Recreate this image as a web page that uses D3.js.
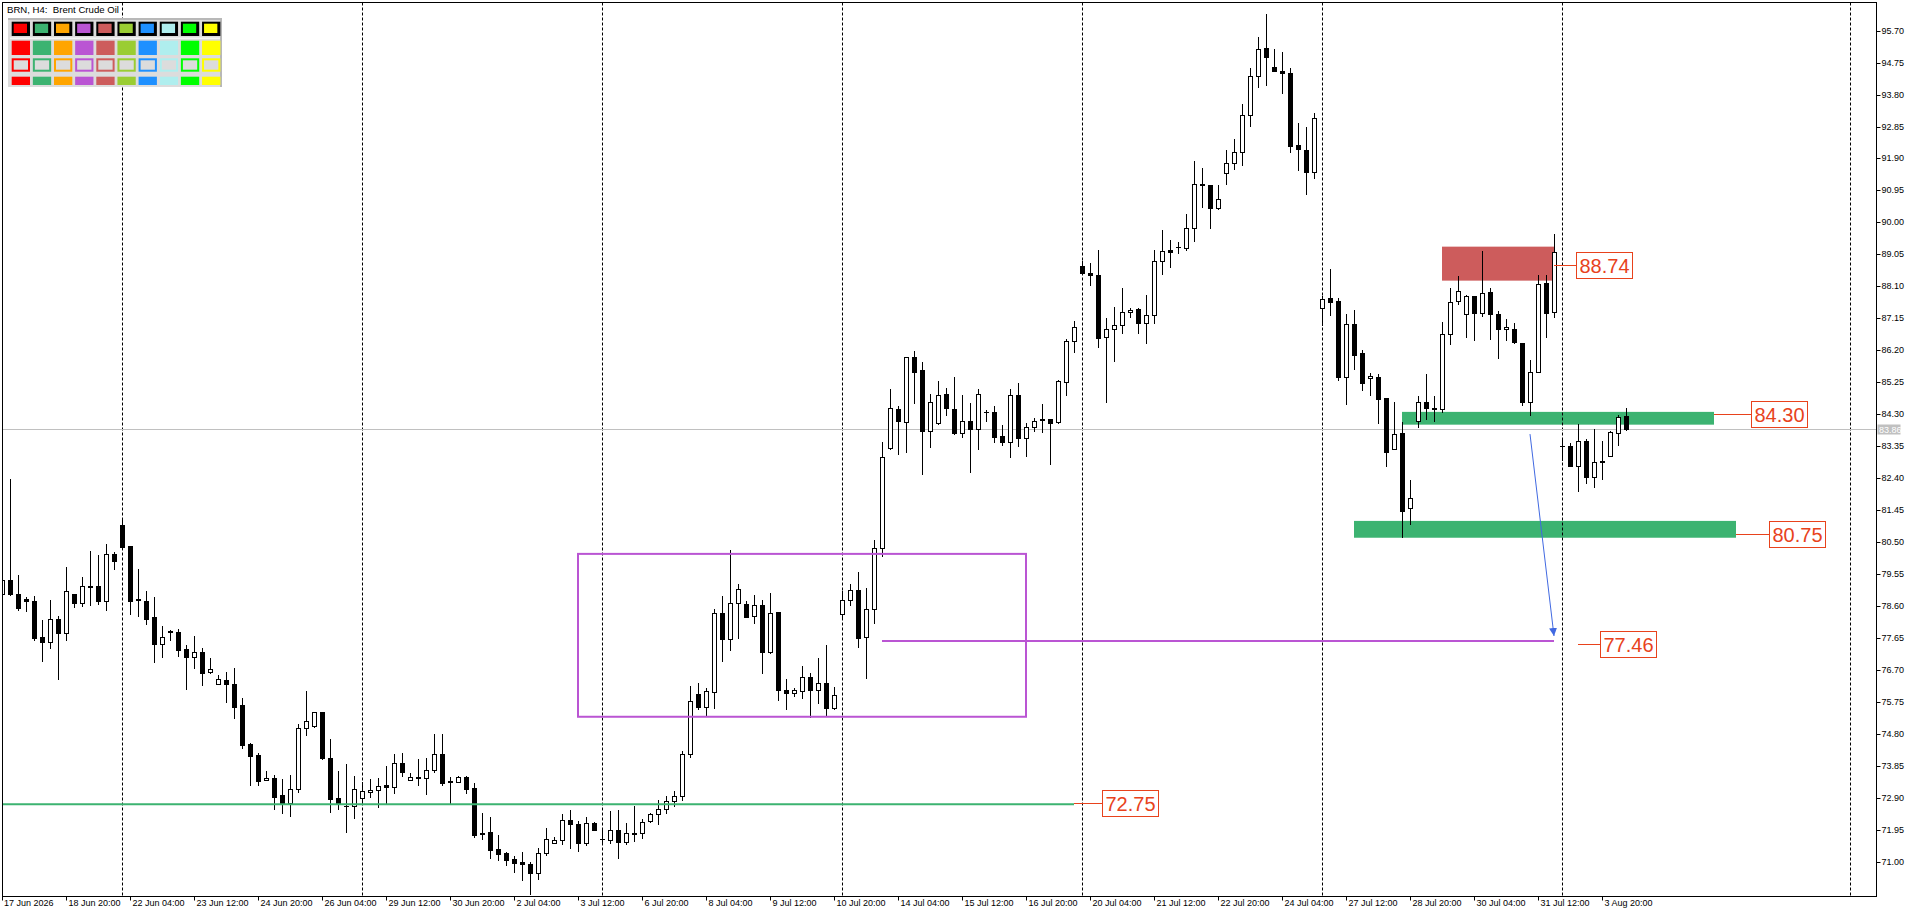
<!DOCTYPE html>
<html><head><meta charset="utf-8">
<script src="https://cdn.jsdelivr.net/npm/d3@7"></script>
<style>html,body{margin:0;padding:0;background:#fff;overflow:hidden}svg text{white-space:pre}</style>
</head><body>
<svg id="c" width="1920" height="915"></svg>
<script>
// ---- data (H4 bars, Brent) ----
const opens=[78.95,79.37,78.95,78.81,78.75,77.67,77.54,78.21,77.81,78.96,
78.70,79.21,79.19,78.76,80.16,81.01,80.38,78.81,78.75,78.27,
77.46,77.86,77.82,77.31,77.10,77.22,76.63,76.27,76.39,76.28,
75.66,74.50,74.17,73.42,73.48,72.98,72.74,73.15,74.99,75.04,
75.44,74.08,72.89,72.67,72.65,72.91,73.06,73.12,73.27,73.21,
73.95,73.44,73.51,73.48,73.72,74.19,73.39,73.36,73.51,73.19,
71.82,71.90,71.37,71.26,71.07,70.99,70.93,70.68,71.26,71.55,
71.64,72.24,72.12,71.55,72.15,71.67,71.64,71.94,71.58,71.85,
71.85,72.20,72.41,72.56,72.80,72.95,74.20,76.00,75.61,76.05,
78.38,77.63,78.68,78.65,78.30,78.62,77.24,78.41,76.10,76.03,
76.09,76.48,76.12,76.30,75.58,78.37,78.77,79.07,77.69,78.50,
80.33,83.31,84.47,84.08,85.99,85.60,83.81,84.05,84.89,84.47,
83.75,84.09,83.87,84.38,84.36,83.65,83.48,84.86,83.58,83.91,
84.15,84.15,84.06,85.25,86.47,88.71,88.49,88.43,86.60,86.84,
86.94,87.33,87.42,87.02,87.25,88.86,89.18,89.28,89.23,89.82,
91.14,91.11,90.42,91.46,91.76,92.08,93.18,94.34,95.17,94.63,
94.50,94.44,92.29,92.15,91.49,87.45,87.74,87.66,85.41,86.97,
86.11,85.37,85.41,84.78,83.26,83.73,81.50,84.09,84.65,84.50,
84.47,86.67,87.66,87.27,87.80,87.30,87.92,87.27,86.82,86.82,
86.43,84.67,85.56,88.21,87.33,83.35,83.35,82.77,83.50,82.44,
82.92,83.07,83.73,84.25];
const highs=[79.45,82.39,79.52,78.88,78.90,78.18,78.78,78.30,79.76,78.97,
79.47,80.24,80.12,80.44,80.21,81.21,80.38,79.70,79.05,78.87,
78.01,77.89,77.92,77.44,77.71,77.34,77.07,76.54,76.64,76.75,
75.86,74.54,74.24,73.70,73.58,73.46,73.58,75.09,76.07,75.44,
75.44,74.64,73.70,73.90,73.55,73.37,73.46,73.49,73.85,74.20,
74.22,73.63,74.06,74.07,74.80,74.80,73.52,73.54,73.54,73.34,
72.44,72.33,71.80,71.29,71.17,71.28,70.98,71.40,72.00,71.74,
72.42,72.54,72.20,72.33,72.18,72.00,72.51,72.55,72.16,72.67,
72.27,72.44,72.83,72.95,73.10,74.30,76.22,76.30,76.15,78.50,
78.90,80.26,79.25,78.76,78.92,78.78,78.98,78.43,76.42,76.17,
76.82,76.62,77.05,77.44,76.18,79.06,79.25,79.60,79.15,80.56,
83.46,85.04,84.54,85.99,86.18,85.84,84.90,85.29,85.07,85.40,
84.87,84.62,85.04,84.44,84.54,83.99,85.05,85.22,84.05,84.19,
84.59,84.15,85.32,86.54,87.07,88.85,88.78,89.18,87.15,87.48,
88.05,87.45,87.45,87.84,89.18,89.77,89.48,89.41,90.25,91.82,
91.61,91.11,91.11,92.15,92.47,93.51,94.58,95.50,96.19,95.14,
95.05,94.58,92.94,92.85,93.24,87.80,88.63,87.74,87.28,87.40,
86.21,85.53,85.49,84.78,84.65,84.08,82.34,84.84,85.49,84.84,
87.05,88.04,88.41,87.84,87.80,89.15,88.04,87.37,87.12,87.02,
86.43,85.90,88.44,88.44,89.65,83.58,83.45,84.01,83.55,83.86,
83.51,83.80,84.28,84.49];
const lows=[78.85,78.93,78.48,78.45,77.59,76.98,77.36,76.43,77.59,78.58,
78.60,78.63,78.66,78.48,79.70,80.34,78.36,78.31,78.06,76.94,
77.09,77.59,77.12,76.14,76.77,76.26,76.62,76.27,75.76,75.28,
74.39,73.27,73.27,73.42,72.58,72.46,72.37,73.08,74.77,75.01,
74.06,72.49,72.56,71.89,72.31,72.72,72.93,72.62,72.72,73.05,
73.56,73.43,73.28,73.02,73.66,73.29,72.72,73.36,73.05,71.75,
71.69,71.12,71.06,70.91,70.71,70.47,70.05,70.50,71.19,71.55,
71.52,71.42,71.33,71.51,71.95,71.55,71.55,71.12,71.52,71.63,
71.72,72.18,72.11,72.45,72.65,72.85,74.10,75.55,75.33,75.58,
76.97,77.29,77.66,78.26,78.10,76.60,77.19,75.81,75.55,75.93,
75.87,75.31,75.71,75.33,75.54,78.28,78.63,77.39,76.46,78.10,
80.09,83.26,83.12,83.19,84.64,82.52,83.34,84.01,84.28,83.70,
83.61,82.59,83.26,84.11,83.48,83.38,83.02,83.36,83.07,83.81,
83.76,82.81,84.03,84.87,86.14,88.46,88.14,86.31,84.67,85.89,
86.72,87.20,86.72,86.41,87.02,88.48,88.68,89.10,89.18,89.46,
90.47,89.84,90.39,91.13,91.58,91.71,92.87,94.01,94.09,94.49,
93.84,92.10,91.56,90.83,91.31,86.95,87.25,85.32,84.61,85.64,
85.02,84.87,84.05,82.77,83.26,80.66,81.03,83.93,84.15,84.11,
84.37,86.39,87.59,86.60,86.52,87.23,86.55,85.96,86.50,86.43,
84.57,84.28,85.56,86.60,87.20,82.94,82.76,82.03,82.27,82.15,
82.39,83.07,83.38,83.83];
const closes=[79.37,78.95,78.55,78.74,77.66,77.54,78.21,77.81,79.04,78.70,
79.21,79.17,78.75,80.16,79.95,80.36,78.76,78.77,78.22,77.46,
77.67,77.83,77.30,77.09,77.22,76.62,76.72,76.42,76.27,75.61,
74.47,74.15,73.41,73.48,72.93,72.74,73.15,74.99,75.17,75.44,
74.09,72.87,72.72,72.65,73.15,73.09,73.12,73.24,73.21,73.95,
73.66,73.51,73.48,73.72,74.19,73.35,73.36,73.51,73.17,71.81,
71.87,71.36,71.24,71.06,70.97,70.92,70.68,71.26,71.68,71.64,
72.24,72.11,71.55,72.14,71.95,71.67,71.94,71.58,71.85,71.82,
72.17,72.41,72.56,72.80,72.95,74.20,75.78,75.61,76.07,78.38,
77.61,78.68,79.10,78.28,78.62,77.24,78.38,76.10,76.02,76.12,
76.48,76.12,76.30,75.58,75.97,78.77,79.07,77.66,78.50,80.33,
83.02,84.50,84.11,85.99,85.56,83.81,84.65,84.86,84.49,83.75,
84.09,83.87,84.89,84.38,83.63,83.48,84.86,83.58,83.91,84.11,
84.12,84.03,85.28,86.47,86.90,88.49,88.45,86.57,86.84,86.94,
87.35,87.39,87.00,87.25,88.84,89.15,89.13,89.28,89.82,91.13,
91.10,90.42,90.71,91.76,92.08,93.18,94.34,95.14,94.91,94.49,
94.44,92.28,92.17,91.51,93.09,87.72,87.64,85.41,86.97,86.07,
85.24,85.43,84.76,83.19,83.70,81.43,81.80,84.67,84.50,84.46,
86.67,87.64,87.96,87.82,87.32,87.89,87.27,86.82,86.88,86.45,
84.67,85.56,88.16,87.32,89.11,83.35,82.77,83.50,82.44,82.87,
82.87,83.76,84.23,83.86];
const lastPrice=83.86;
const tickBars=[0,8,16,24,32,40,48,56,64,72,80,88,96,104,112,120,128,136,144,152,160,168,176,184,192,200];
const tickLabels=["17 Jun 2026","18 Jun 20:00","22 Jun 04:00","23 Jun 12:00","24 Jun 20:00","26 Jun 04:00","29 Jun 12:00","30 Jun 20:00","2 Jul 04:00","3 Jul 12:00","6 Jul 20:00","8 Jul 04:00","9 Jul 12:00","10 Jul 20:00","14 Jul 04:00","15 Jul 12:00","16 Jul 20:00","20 Jul 04:00","21 Jul 12:00","22 Jul 20:00","24 Jul 04:00","27 Jul 12:00","28 Jul 20:00","30 Jul 04:00","31 Jul 12:00","3 Aug 20:00"];
const priceTicks=[71.00,71.95,72.90,73.85,74.80,75.75,76.70,77.65,78.60,79.55,80.50,81.45,82.40,83.35,84.30,85.25,86.20,87.15,88.10,89.05,90.00,90.95,91.90,92.85,93.80,94.75,95.70];
const separatorBars=[15,45,75,105,135,165,195,231];
const paletteColors=["#FF0000","#3CB371","#FFA500","#BA55D3","#CD5C5C","#9ACD32","#1E90FF","#AFEEEE","#00FF00","#FFFF00"];
// chart objects (bar index / price)
const zoneBars=[[180,194],[175,214],[169,216.75]];
const zonePrices=[[88.27,89.28],[83.99,84.37],[80.63,81.13]];
const purpleBoxBars=[72,128], purpleBoxPrices=[75.31,80.15];
const purpleLineBars=[110,194], purpleLinePrice=77.56;
const greenLineEndBar=134, greenLinePrice=72.71;
const arrowBars=[191,194], arrowPrices=[83.71,77.71];
const labelTexts=["88.74","84.30","80.75","77.46","72.75"];
const labelPrices=[88.74,84.30,80.75,77.46,72.75];
const labelFromBars=[194,214,216.75,197,134];
const labelBoxBars=[196.75,218.62,220.87,199.75,137.5];

// ---- drawing ----
const svg=d3.select("#c");
const PL=2.5,PT=2.5,PR=1876.5,PB=896.5;
const x=d3.scaleLinear().domain([0,203]).range([2,1626]);
const y=d3.scaleLinear().domain([71.00,95.70]).range([861.8,30.6]);
const FONT="'Liberation Sans', Arial, sans-serif";
const LBL="#E8421C";

svg.append("defs").append("clipPath").attr("id","pc").append("rect")
  .attr("x",PL+0.5).attr("y",PT+0.5).attr("width",PR-PL-1).attr("height",PB-PT-1);
svg.select("defs").append("marker").attr("id","ah").attr("viewBox","0 0 10 10")
  .attr("refX",10).attr("refY",5).attr("markerWidth",8).attr("markerHeight",8)
  .attr("markerUnits","userSpaceOnUse").attr("orient","auto")
  .append("path").attr("d","M0,0 L10,5 L0,10 Z").attr("fill","#4169E1");

const plot=svg.append("g").attr("clip-path","url(#pc)");

// legend panel
const pan=svg.append("g");
pan.append("rect").attr("x",8).attr("y",18).attr("width",214).attr("height",69).attr("fill","#dcdcdc");
pan.append("rect").attr("x",8).attr("y",18).attr("width",214).attr("height",2).attr("fill","#b8b8b8");
pan.append("rect").attr("x",220).attr("y",18).attr("width",2).attr("height",69).attr("fill","#b8b8b8");
pan.append("rect").attr("x",10).attr("y",37.5).attr("width",210).attr("height",1.5).attr("fill","#f4f4f4");
paletteColors.forEach((c,k)=>{
  const cx=11.7+21.15*k;
  pan.append("rect").attr("x",cx).attr("y",21.7).attr("width",18.3).attr("height",14.3).attr("fill","#000");
  pan.append("rect").attr("x",cx+2).attr("y",23.7).attr("width",13.3).attr("height",9.3).attr("fill",c);
  pan.append("rect").attr("x",cx).attr("y",40.7).attr("width",18.3).attr("height",14.3).attr("fill",c);
  pan.append("rect").attr("x",cx+1).attr("y",59.3).attr("width",16.3).attr("height",11.4).attr("fill","#dcdcdc").attr("stroke",c).attr("stroke-width",2);
  pan.append("rect").attr("x",cx).attr("y",76.7).attr("width",18.3).attr("height",8.3).attr("fill",c);
});
svg.append("text").attr("x",7).attr("y",13).attr("font-family",FONT).attr("font-size",9.6).attr("fill","#000")
  .text("BRN, H4:  Brent Crude Oil");

// background zones
const zoneColors=["#CD5C5C","#3CB371","#3CB371"];
zoneBars.forEach((b,k)=>{
  plot.append("rect").attr("x",x(b[0])).attr("width",x(b[1])-x(b[0]))
    .attr("y",y(zonePrices[k][1])).attr("height",y(zonePrices[k][0])-y(zonePrices[k][1]))
    .attr("fill",zoneColors[k]);
});

// weekly separators
separatorBars.forEach(b=>{
  plot.append("line").attr("x1",Math.round(x(b))+0.5).attr("x2",Math.round(x(b))+0.5)
    .attr("y1",PT).attr("y2",PB).attr("stroke","#000").attr("stroke-dasharray","3,2");
});

// last price line
plot.append("line").attr("x1",PL).attr("x2",PR).attr("y1",Math.round(y(lastPrice))+0.5).attr("y2",Math.round(y(lastPrice))+0.5)
  .attr("stroke","#c0c0c0");

// candles
const idx=d3.range(opens.length);
const cg=plot.append("g");
idx.forEach(i=>{
  const cx=Math.round(x(i));
  const o=opens[i],c=closes[i];
  cg.append("line").attr("x1",cx+0.5).attr("x2",cx+0.5).attr("y1",Math.round(y(highs[i]))).attr("y2",Math.round(y(lows[i]))+1)
    .attr("stroke","#000");
  const t=Math.round(y(Math.max(o,c))),bt=Math.round(y(Math.min(o,c)));
  if(bt-t<1){
    cg.append("line").attr("x1",cx-2).attr("x2",cx+3).attr("y1",t+0.5).attr("y2",t+0.5).attr("stroke","#000");
  } else {
    cg.append("rect").attr("x",cx-1.5).attr("y",t+0.5).attr("width",4).attr("height",bt-t)
      .attr("fill",c>=o?"#fff":"#000").attr("stroke","#000");
  }
});

// purple box and line
plot.append("rect").attr("x",x(purpleBoxBars[0])).attr("width",x(purpleBoxBars[1])-x(purpleBoxBars[0]))
  .attr("y",y(purpleBoxPrices[1])).attr("height",y(purpleBoxPrices[0])-y(purpleBoxPrices[1]))
  .attr("fill","none").attr("stroke","#BA55D3").attr("stroke-width",2);
plot.append("line").attr("x1",x(purpleLineBars[0])).attr("x2",x(purpleLineBars[1]))
  .attr("y1",y(purpleLinePrice)).attr("y2",y(purpleLinePrice)).attr("stroke","#BA55D3").attr("stroke-width",2);
// green level line
plot.append("line").attr("x1",PL).attr("x2",x(greenLineEndBar))
  .attr("y1",y(greenLinePrice)).attr("y2",y(greenLinePrice)).attr("stroke","#3CB371").attr("stroke-width",2);
// blue arrow
plot.append("line").attr("x1",x(arrowBars[0])).attr("y1",y(arrowPrices[0]))
  .attr("x2",x(arrowBars[1])).attr("y2",y(arrowPrices[1])).attr("stroke","#4169E1").attr("stroke-width",1)
  .attr("marker-end","url(#ah)");

// price labels with connectors
labelTexts.forEach((t,k)=>{
  const yy=Math.round(y(labelPrices[k]))+0.5;
  const bx=Math.round(x(labelBoxBars[k]))+0.5;
  plot.append("line").attr("x1",x(labelFromBars[k])).attr("x2",bx).attr("y1",yy).attr("y2",yy).attr("stroke",LBL);
  plot.append("rect").attr("x",bx).attr("y",yy-13).attr("width",56).attr("height",26).attr("fill","#fff").attr("stroke",LBL);
  plot.append("text").attr("x",bx+28).attr("y",yy+7.5).attr("text-anchor","middle")
    .attr("font-family",FONT).attr("font-size",20).attr("fill",LBL).text(t);
});

// frame
svg.append("rect").attr("x",PL).attr("y",PT).attr("width",PR-PL).attr("height",PB-PT).attr("fill","none").attr("stroke","#000");

// price axis
const ya=svg.append("g").attr("transform",`translate(${PR},0)`)
  .call(d3.axisRight(y).tickValues(priceTicks).tickSize(4).tickPadding(1).tickFormat(d3.format(".2f")));
ya.select(".domain").remove();
ya.selectAll("text").attr("font-family",FONT).attr("font-size",9).attr("fill","#000");
ya.selectAll(".tick").attr("transform",d=>`translate(0,${Math.round(y(d))+0.5})`);
// last price tag
const ly=Math.round(y(lastPrice))+0.5;
svg.append("rect").attr("x",PR+1).attr("y",ly-5).attr("width",23).attr("height",10).attr("fill","#c0c0c0");
svg.append("text").attr("x",PR+2.5).attr("y",ly+3.2).attr("font-family",FONT).attr("font-size",9).attr("fill","#fff").text(d3.format(".2f")(lastPrice));

// time axis
const xa=svg.append("g").attr("transform",`translate(0,${PB})`)
  .call(d3.axisBottom(x).tickValues(tickBars).tickSize(4).tickFormat((d,i)=>tickLabels[i]));
xa.select(".domain").remove();
xa.selectAll(".tick").attr("transform",d=>`translate(${Math.round(x(d))+0.5},0)`);
xa.selectAll("text").attr("font-family",FONT).attr("font-size",9).attr("fill","#000")
  .attr("text-anchor","start").attr("x",2).attr("y",3).attr("dy","0.71em");
xa.selectAll(".tick").filter((d,i)=>i===0).select("text").attr("x",1.5);
</script>
</body></html>
